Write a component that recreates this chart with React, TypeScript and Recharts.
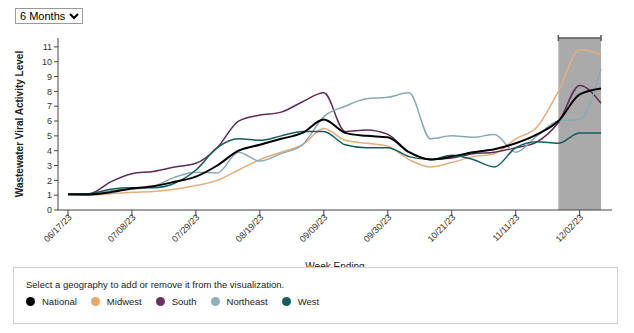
import { LineChart, Line, XAxis, YAxis, ReferenceArea } from 'recharts';

const weeks = [
  '06/17/23', '06/24/23', '07/01/23', '07/08/23', '07/15/23', '07/22/23', '07/29/23',
  '08/05/23', '08/12/23', '08/19/23', '08/26/23', '09/02/23', '09/09/23', '09/16/23',
  '09/23/23', '09/30/23', '10/07/23', '10/14/23', '10/21/23', '10/28/23', '11/04/23',
  '11/11/23', '11/18/23', '11/25/23', '12/02/23', '12/09/23',
];

const national = [1.05, 1.05, 1.2, 1.45, 1.6, 1.9, 2.25, 3.0, 4.0, 4.4, 4.8, 5.2, 6.1, 5.2, 5.0, 4.9, 3.9, 3.4, 3.6, 3.9, 4.1, 4.5, 5.1, 6.0, 7.8, 8.2];
const midwest = [1.05, 1.0, 1.1, 1.2, 1.25, 1.4, 1.65, 2.0, 2.7, 3.4, 3.9, 4.4, 5.5, 4.7, 4.5, 4.3, 3.4, 2.9, 3.2, 3.6, 3.8, 4.8, 5.6, 8.0, 10.8, 10.5];
const south = [1.1, 1.1, 1.9, 2.45, 2.6, 2.9, 3.15, 4.2, 6.0, 6.4, 6.6, 7.3, 7.9, 5.3, 5.4, 5.1, 3.9, 3.4, 3.5, 3.8, 3.9, 4.2, 4.6, 5.9, 8.4, 7.2];
const northeast = [1.1, 1.0, 1.3, 1.4, 1.6, 2.2, 2.55, 2.5, 3.9, 3.3, 3.8, 4.4, 6.3, 7.0, 7.5, 7.6, 7.9, 4.8, 5.0, 4.9, 5.1, 3.9, 5.0, 6.0, 6.1, 9.5];
const west = [1.1, 1.1, 1.4, 1.5, 1.5, 1.8, 2.7, 4.2, 4.8, 4.7, 5.0, 5.3, 5.3, 4.4, 4.2, 4.2, 3.6, 3.4, 3.7, 3.4, 2.9, 4.2, 4.6, 4.5, 5.2, 5.2];

const yTicks = [0, 1, 2, 3, 4, 5, 6, 7, 8, 9, 10, 11];

const series = [
  { key: 'Midwest', color: '#e4ae7c', width: 1.5 },
  { key: 'South', color: '#5f2c55', width: 1.5 },
  { key: 'Northeast', color: '#8aa9b4', width: 1.5 },
  { key: 'West', color: '#165c5c', width: 1.5 },
  { key: 'National', color: '#000000', width: 2 },
];

const legendItems = [
  { name: 'National', color: '#000000' },
  { name: 'Midwest', color: '#e8a86c' },
  { name: 'South', color: '#6a3260' },
  { name: 'Northeast', color: '#8fb0bb' },
  { name: 'West', color: '#145e5e' },
];

const data = weeks.map((week, i) => ({
  week,
  National: national[i],
  Midwest: midwest[i],
  South: south[i],
  Northeast: northeast[i],
  West: west[i],
}));

const font = 'Arial, "Liberation Sans", sans-serif';

function XTick({ x, y, payload }: any) {
  return (
    <g transform={`translate(${x},${y})`}>
      <text x={3} y={3} textAnchor="end" transform="rotate(-45)" fontSize={9} fill="#333" fontFamily={font}>
        {payload.value}
      </text>
    </g>
  );
}

function Shade({ x, y, width, height }: any) {
  return (
    <g>
      <rect x={x} y={y} width={width} height={height} fill="#aaaaaa" />
      <path d={`M${x},${y - 3}V${y + 3}M${x},${y}H${x + width}M${x + width},${y - 3}V${y + 3}`} stroke="#555" strokeWidth={1.5} fill="none" />
    </g>
  );
}

export default function App() {
  return (
    <div style={{ position: 'absolute', left: 0, top: 0, width: 634, height: 333, background: '#fff', fontFamily: font }}>
      <select defaultValue="6" style={{ position: 'absolute', left: 15, top: 8, width: 68, height: 16, fontSize: 11, fontFamily: font, padding: 0, border: '1px solid #999', borderRadius: 0, background: '#fff', zIndex: 2 }}>
        <option value="6">6 Months</option>
      </select>
      <LineChart width={634} height={333} data={data} margin={{ top: 38, right: 22, left: 0, bottom: 0 }}>
        <ReferenceArea x1="11/25/23" x2="12/09/23" y1={0} y2={11.6} shape={<Shade />} ifOverflow="visible" />
        <XAxis
          dataKey="week"
          scale="point"
          padding={{ left: 10, right: 11 }}
          interval={2}
          height={123}
          tick={<XTick />}
          tickSize={6}
          stroke="#444"
          tickLine={{ stroke: '#444' }}
          label={{ value: 'Week Ending', position: 'insideTop', offset: 53, fontSize: 10, fill: '#222', fontFamily: font }}
        />
        <YAxis
          domain={[0, 11.6]}
          ticks={yTicks}
          interval={0}
          width={58}
          tickSize={4}
          tick={{ fontSize: 9, fill: '#333', fontFamily: font }}
          stroke="#444"
          label={{ value: 'Wastewater Viral Activity Level', angle: -90, position: 'center', dx: -10, fontSize: 10, fontWeight: 'bold', fill: '#222', fontFamily: font }}
        />
        {series.map((s) => (
          <Line key={s.key} type="monotone" dataKey={s.key} stroke={s.color} strokeWidth={s.width} dot={false} isAnimationActive={false} />
        ))}
      </LineChart>
      <div style={{ position: 'absolute', left: 13, top: 267, width: 605, height: 57, border: '1px solid #cfcfcf', background: '#fff', fontSize: 9.5, color: '#222', boxSizing: 'border-box', padding: '11px 0 0 12px' }}>
        <div>Select a geography to add or remove it from the visualization.</div>
        <div style={{ display: 'flex', alignItems: 'center', marginTop: 6 }}>
          {legendItems.map((it) => (
            <span key={it.name} style={{ display: 'flex', alignItems: 'center', marginRight: 14 }}>
              <span style={{ width: 9, height: 9, borderRadius: '50%', background: it.color, display: 'inline-block', marginRight: 7 }} />
              {it.name}
            </span>
          ))}
        </div>
      </div>
    </div>
  );
}
